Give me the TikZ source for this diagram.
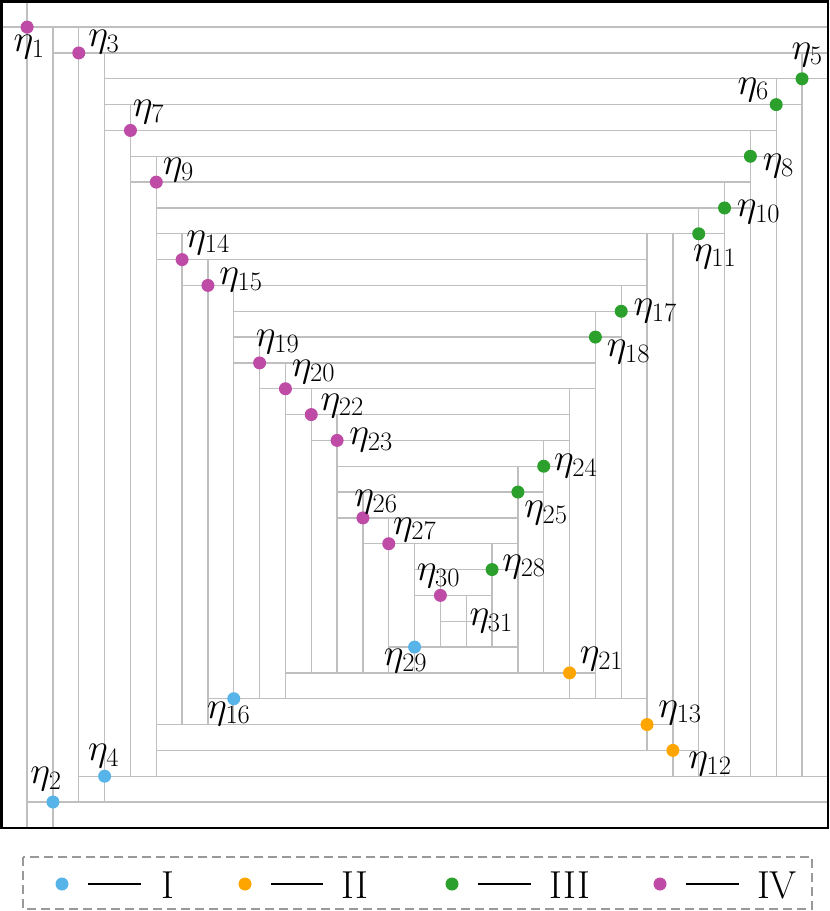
\RequirePackage{fix-cm}
\documentclass[tikz,border=0pt]{standalone}
\usetikzlibrary{calc}
\definecolor{cI}{RGB}{86,180,233}
\definecolor{cII}{RGB}{255,165,0}
\definecolor{cIII}{RGB}{44,160,44}
\definecolor{cIV}{RGB}{190,75,165}
\tikzset{
  gl/.style={draw=gray!50, line width=1.3pt},
  dot/.style={circle, inner sep=0pt, minimum size=13pt, draw=none},
  lab/.style={inner sep=0pt, font=\fontsize{38}{42}\selectfont},
  legtext/.style={inner sep=0pt, font=\fontsize{39}{43}\selectfont},
  frame/.style={draw=black, line width=2.6pt},
  legbox/.style={draw=gray!80, line width=1.2pt, dash pattern=on 9pt off 5pt},
  legline/.style={draw=black, line width=1.2pt}
}
\begin{document}
\begin{tikzpicture}[x=1pt,y=-1pt]
\useasboundingbox (0,0) rectangle (830,911);
\begin{scope}[shift={(1.3,1.3)},x=25.83pt,y=-25.83pt]
  % horizontal segments: y / from / to
  \foreach \yy/\aa/\bb in {1/0/32, 31/1/32, 2/2/32, 30/3/32, 3/4/32, 4/4/31, 5/4/30,
      6/5/30, 7/5/29, 8/6/29, 9/6/28, 29/6/27, 28/6/26, 10/6/25, 11/7/25, 27/8/25,
      12/9/25, 13/9/24, 14/9/23, 15/10/23, 26/11/23, 16/11/22, 17/12/22, 18/13/22,
      19/13/21, 20/13/20, 21/14/20, 25/15/20, 22/16/20, 23/16/19, 24/17/19}
    \draw[gl] (\aa,\yy) -- (\bb,\yy);
  % vertical segments: x / from / to
  \foreach \xx/\aa/\bb in {1/0/32, 2/1/32, 3/1/31, 4/2/31, 31/2/30, 30/3/30, 5/4/30,
      29/5/30, 6/6/30, 28/7/30, 27/8/30, 26/9/30, 25/9/29, 7/9/28, 8/10/28, 9/11/28,
      24/11/27, 23/12/27, 10/13/27, 11/14/27, 22/15/27, 12/15/26, 13/16/26, 21/17/26,
      20/18/26, 14/19/26, 15/20/26, 16/21/26, 19/21/25, 17/22/25, 18/23/25}
    \draw[gl] (\xx,\aa) -- (\xx,\bb);
  \draw[frame] (0,0) rectangle (32,32);
  \foreach \n/\x/\y/\t/\dx/\dy in {
      1/1/1/IV/2/-20, 2/2/31/I/-7/23, 3/3/2/IV/25/11, 4/4/30/I/-1/20,
      5/31/3/III/5/24, 6/30/4/III/-23/15, 7/5/5/IV/18/18, 8/29/6/III/28/-10,
      9/6/7/IV/22/12, 10/28/8/III/34/-4, 11/27/9/III/16/-23, 12/26/29/II/37/-14,
      13/25/28/II/33/12, 14/7/10/IV/26/17, 15/8/11/IV/33/5, 16/9/27/I/-5/-15,
      17/24/12/III/34/0, 18/23/13/III/33/-15, 19/10/14/IV/18/21, 20/11/15/IV/28/17,
      21/22/26/II/32/14, 22/12/16/IV/31/9, 23/13/17/IV/34/0, 24/21/18/III/32/0,
      25/20/19/III/28/-21, 26/14/20/IV/13/16, 27/15/21/IV/26/14, 28/19/22/III/32/3,
      29/16/25/I/-9/-14, 30/17/23/IV/-2/19}
  {
    \node[dot, fill=c\t] (e\n) at (\x,\y) {};
    \node[lab] (t\n) at ([shift={(\dx*1pt,\dy*1pt)}]e\n.center) {$\eta_{\n}$};
  }
  \coordinate (e31) at (18,24);
  \node[lab] (t31) at ([shift={(25pt,0pt)}]e31) {$\eta_{31}$};
\end{scope}
% legend
\draw[legbox] (23,857) rectangle (812,909);
\node[dot, fill=cI] (dI) at (62,884) {};
\draw[legline] (88,884) -- (141,884);
\node[legtext] (lI) at (168,885) {I};
\node[dot, fill=cII] (dII) at (245,884) {};
\draw[legline] (271,884) -- (323,884);
\node[legtext] (lII) at (355,885) {II};
\node[dot, fill=cIII] (dIII) at (452,884) {};
\draw[legline] (478,884) -- (531,884);
\node[legtext] (lIII) at (570,885) {III};
\node[dot, fill=cIV] (dIV) at (660,884) {};
\draw[legline] (686,884) -- (739,884);
\node[legtext] (lIV) at (777,885) {IV};
\end{tikzpicture}
\end{document}
